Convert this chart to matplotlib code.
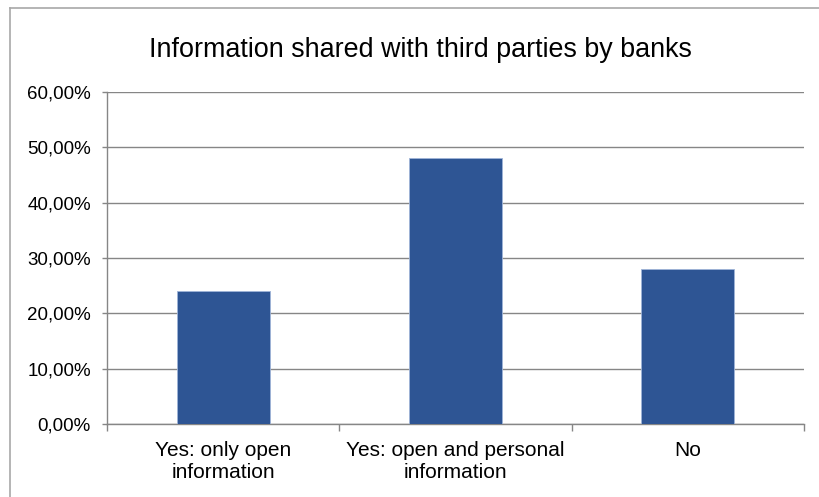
import matplotlib
matplotlib.use('Agg')
import matplotlib.pyplot as plt
import numpy as np
from matplotlib.ticker import FuncFormatter, FixedLocator
from matplotlib.lines import Line2D

plt.rcParams['font.family'] = 'sans-serif'
plt.rcParams['font.sans-serif'] = ['Liberation Sans', 'DejaVu Sans']

# data
categories = ['Yes: only open\ninformation',
              'Yes: open and personal\ninformation',
              'No']
shares = [24.0, 48.0, 28.0]   # percent
title = 'Information shared with third parties by banks'

grey = '#868686'
bar_col = '#2E5594'

fig = plt.figure(figsize=(8.19, 4.97), dpi=100)
ax = fig.add_axes([0.1306, 0.1469, 0.8511, 0.668])

x = np.arange(len(categories))
ax.bar(x, shares, width=0.4, color=bar_col, edgecolor='#9fb4d8', linewidth=0.6, zorder=3)

ax.set_xlim(-0.5, len(categories) - 0.5)
ax.set_ylim(0, 60)
ax.set_yticks(np.arange(0, 61, 10))
ax.yaxis.set_major_formatter(FuncFormatter(lambda v, p: f'{v:.2f}%'.replace('.', ',')))
ax.grid(axis='y', color=grey, linewidth=1.0, zorder=0)

ax.set_xticks(x)
ax.set_xticklabels(categories, fontsize=15, linespacing=1.25)
ax.xaxis.set_minor_locator(FixedLocator(np.arange(-0.5, len(categories), 1.0)))
ax.tick_params(axis='x', which='major', length=0, pad=12)
ax.tick_params(axis='x', which='minor', length=5, color=grey, width=1, direction='out')
ax.tick_params(axis='y', length=3.5, color=grey, width=1, direction='out', labelsize=13.5, pad=8)

for s in ['top', 'right']:
    ax.spines[s].set_visible(False)
for s in ['left', 'bottom']:
    ax.spines[s].set_color(grey)
    ax.spines[s].set_linewidth(1.0)

fig.text(0.513, 0.899, title, ha='center', va='center', fontsize=19.4)

# outer chart frame (left and top edges visible)
fig.add_artist(Line2D([0.0122, 0.0122], [0.0, 0.984], color='#a8a8a8', linewidth=1.2, transform=fig.transFigure))
fig.add_artist(Line2D([0.0122, 1.0], [0.984, 0.984], color='#a8a8a8', linewidth=1.2, transform=fig.transFigure))

fig.savefig('out.png', dpi=100)
